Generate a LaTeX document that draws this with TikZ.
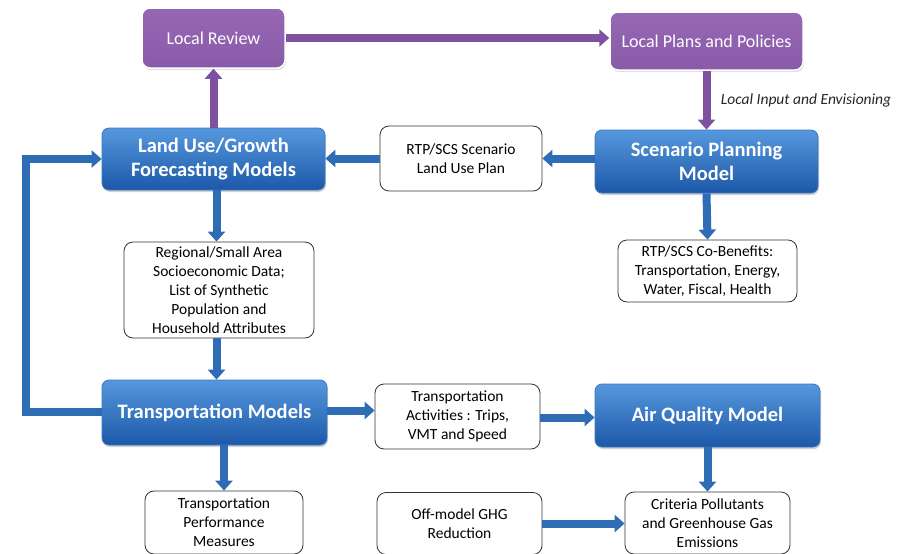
\documentclass[tikz,border=0pt]{standalone}
\usepackage{fontspec}
\setmainfont{Carlito}
\usetikzlibrary{arrows.meta,shadows,calc}
\definecolor{bluearr}{RGB}{46,108,182}
\definecolor{bluetop}{RGB}{86,152,222}
\definecolor{bluebot}{RGB}{28,88,168}
\definecolor{blueedge}{RGB}{60,120,195}
\definecolor{purpfill}{RGB}{137,90,168}
\definecolor{purptop}{RGB}{150,104,180}
\definecolor{purparr}{RGB}{126,82,160}
\tikzset{
  bluebox/.style={rounded corners=7pt, top color=bluetop, bottom color=bluebot, draw=blueedge, line width=0.8pt,
    text=white, font=\fontsize{20.5}{23.5}\selectfont\bfseries, align=center, inner sep=0pt,
    drop shadow={shadow xshift=1pt, shadow yshift=-2pt, opacity=0.35}},
  purpbox/.style={rounded corners=8pt, top color=purptop, bottom color=purpfill, draw=white, line width=1.5pt,
    text=white, font=\fontsize{18}{21}\selectfont, align=center, inner sep=0pt,
    drop shadow={shadow xshift=1pt, shadow yshift=-2pt, opacity=0.25}},
  whitebox/.style={rounded corners=9pt, draw=black!80, line width=0.8pt, fill=white,
    font=\fontsize{15.5}{19}\selectfont, align=center, inner sep=0pt},
  barr/.style={draw=bluearr, line width=8pt, -{Triangle[width=17pt,length=10pt]}},
  parr/.style={draw=purparr, line width=8pt, -{Triangle[width=17pt,length=10pt]}},
}
\begin{document}
\begin{tikzpicture}[x=1pt,y=-1pt]
\useasboundingbox (0,0) rectangle (903,554);
\fill[white] (0,0) rectangle (903,554);
% purple boxes
\node[purpbox, minimum width=143pt, minimum height=60pt] (lr) at (213.5,38) {Local Review};
\node[purpbox, minimum width=193pt, minimum height=58pt] (lp) at (706.5,41) {Local Plans and Policies};
% blue boxes
\node[bluebox, minimum width=223pt, minimum height=62pt] (lu) at (213.5,159) {Land Use/Growth\\Forecasting Models};
\node[bluebox, minimum width=223pt, minimum height=63pt] (sp) at (706.5,161.5) {Scenario Planning\\Model};
\node[bluebox, minimum width=225pt, minimum height=65pt] (tm) at (214.5,412.5) {Transportation Models};
\node[bluebox, minimum width=225pt, minimum height=63pt] (aq) at (707.5,415.5) {Air Quality Model};
% white boxes
\node[whitebox, minimum width=162pt, minimum height=65pt] (rtp) at (461,158.5) {RTP/SCS Scenario\\Land Use Plan};
\node[whitebox, minimum width=179pt, minimum height=62pt] (cb) at (707.5,271) {RTP/SCS Co-Benefits:\\Transportation, Energy,\\Water, Fiscal, Health};
\node[whitebox, minimum width=190pt, minimum height=96pt] (reg) at (219,290) {Regional/Small Area\\Socioeconomic Data;\\List of Synthetic\\Population and\\Household Attributes};
\node[whitebox, minimum width=165pt, minimum height=65pt] (ta) at (457.5,416.5) {Transportation\\Activities : Trips,\\VMT and Speed};
\node[whitebox, minimum width=158pt, minimum height=63pt] (pm) at (224,522.5) {Transportation\\Performance\\Measures};
\node[whitebox, minimum width=165pt, minimum height=62pt] (og) at (459.5,523.5) {Off-model GHG\\Reduction};
\node[whitebox, minimum width=165pt, minimum height=62pt] (cp) at (707.5,523) {Criteria Pollutants\\and Greenhouse Gas\\Emissions};
% purple connectors
\draw[parr] (lr.east) -- (lr.east -| lp.west);
\draw[parr] (lp.south) -- (sp.north) node[midway, right=7pt, font=\fontsize{15.5}{18}\selectfont\itshape, text=black!85] {Local Input and Envisioning};
\draw[parr] (lu.north) -- (lr.south);
% blue connectors
\draw[barr] (rtp.west) -- (rtp.west -| lu.east);
\draw[barr] (sp.west |- rtp.west) -- (rtp.east);
\draw[barr] (sp.south) -- (cb.north);
\draw[barr] ([xshift=3pt]lu.south) -- ([xshift=3pt]lu.south |- reg.north);
\draw[barr] ([xshift=3pt]lu.south |- reg.south) -- ([xshift=3pt]lu.south |- tm.north);
\draw[barr] (pm.north |- tm.south) -- (pm.north);
\draw[barr] ([yshift=2pt]tm.east) -- ([yshift=2pt]tm.east -| ta.west);
\draw[barr] ([yshift=-1pt]ta.east) -- ([yshift=-1pt]ta.east -| aq.west);
\draw[barr] (aq.south) -- (cp.north);
\draw[barr] (og.east) -- (og.east -| cp.west);
\coordinate (fb) at (26,0);
\draw[barr, line join=miter] ([yshift=0.5pt]tm.west) -- ([yshift=0.5pt]tm.west -| fb) |- (lu.west);
\end{tikzpicture}
\end{document}
